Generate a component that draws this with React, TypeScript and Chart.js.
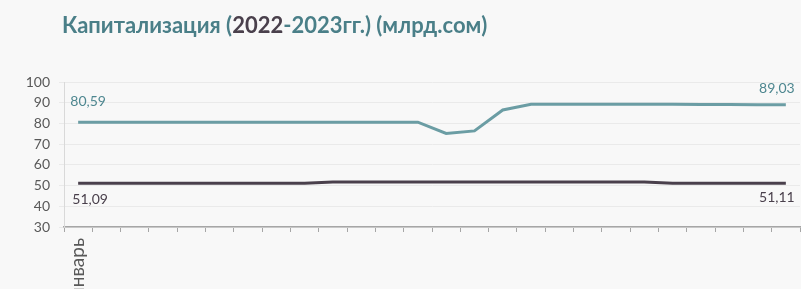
import React, { useEffect, useRef } from 'react';
import { Chart, registerables } from 'chart.js';

Chart.register(...registerables);

// Categories (26 months); only the first is labelled in the original
const categories: string[] = [
  'январь', '', '', '', '', '', '', '', '', '', '', '', '',
  '', '', '', '', '', '', '', '', '', '', '', '', '',
];

// Series 1 (teal)
const seriesTeal: number[] = [
  80.59, 80.59, 80.59, 80.59, 80.59, 80.59, 80.59, 80.59, 80.59, 80.59, 80.59, 80.59, 80.59,
  75.2, 76.4, 86.5, 89.3, 89.3, 89.3, 89.3, 89.3, 89.2, 89.1, 89.1, 89.05, 89.03,
];

// Series 2 (dark)
const seriesDark: number[] = [
  51.09, 51.09, 51.09, 51.09, 51.09, 51.09, 51.09, 51.09, 51.09,
  51.7, 51.7, 51.7, 51.7, 51.7, 51.7, 51.7, 51.7, 51.7, 51.7, 51.7, 51.7,
  51.1, 51.1, 51.15, 51.12, 51.11,
];

const yMin = 30;
const yMax = 100;
const yStep = 10;

const TEAL = '#6B9DA4';
const TEAL_TEXT = '#4E8790';
const DARK = '#4A404C';
const DARK_TEXT = '#4A404C';
const FONT = 'Lato, "Open Sans", sans-serif';

const fmt = (v: number) => v.toFixed(2).replace('.', ',');

const endLabelsPlugin = {
  id: 'endLabels',
  afterDatasetsDraw(chart: any) {
    const ctx = chart.ctx;
    const specs = [
      { ds: 0, color: TEAL_TEXT, first: [10, -21], last: [-9, -16] },
      { ds: 1, color: DARK_TEXT, first: [12, 16], last: [-9, 14] },
    ];
    ctx.save();
    ctx.font = `14px ${FONT}`;
    ctx.textAlign = 'center';
    ctx.textBaseline = 'middle';
    for (const s of specs) {
      const meta = chart.getDatasetMeta(s.ds);
      const data = chart.data.datasets[s.ds].data as number[];
      const n = data.length;
      const p0 = meta.data[0];
      const pn = meta.data[n - 1];
      ctx.fillStyle = s.color;
      ctx.fillText(fmt(data[0]), p0.x + s.first[0], p0.y + s.first[1]);
      ctx.fillText(fmt(data[n - 1]), pn.x + s.last[0], pn.y + s.last[1]);
    }
    ctx.restore();
  },
};

export default function App() {
  const ref = useRef<HTMLCanvasElement | null>(null);

  useEffect(() => {
    if (!ref.current) return;
    const chart = new Chart(ref.current, {
      type: 'line',
      data: {
        labels: categories,
        datasets: [
          {
            data: seriesTeal,
            borderColor: TEAL,
            borderWidth: 3,
            pointRadius: 0,
            tension: 0,
            fill: false,
          },
          {
            data: seriesDark,
            borderColor: DARK,
            borderWidth: 3,
            pointRadius: 0,
            tension: 0,
            fill: false,
          },
        ],
      },
      options: {
        animation: false,
        responsive: false,
        maintainAspectRatio: false,
        layout: { autoPadding: false, padding: { top: 82, right: 1, bottom: 0, left: 0 } },
        plugins: {
          legend: { display: false },
          tooltip: { enabled: false },
          title: { display: false },
        },
        scales: {
          x: {
            offset: true,
            grid: {
              offset: true,
              drawOnChartArea: false,
              drawTicks: true,
              tickLength: 5,
              color: '#A6A6A6',
              lineWidth: 1,
            },
            border: { display: true, color: '#A6A6A6', width: 1.5 },
            ticks: {
              autoSkip: false,
              maxRotation: 90,
              minRotation: 90,
              padding: 6,
              color: '#595959',
              font: { family: FONT, size: 19 },
            },
            afterFit(scale: any) {
              scale.height = 62;
              scale.paddingLeft = 0;
              scale.paddingRight = 0;
            },
          },
          y: {
            min: yMin,
            max: yMax,
            ticks: {
              stepSize: yStep,
              padding: 9,
              color: '#595959',
              font: { family: FONT, size: 14 },
            },
            grid: {
              color: '#EAEAEA',
              lineWidth: 1,
              tickLength: 5,
            },
            border: { display: true, color: '#D9D9D9', width: 1 },
            afterFit(scale: any) {
              scale.width = 64;
              scale.paddingTop = 0;
              scale.paddingBottom = 0;
            },
          },
        },
      },
      plugins: [endLabelsPlugin],
    });
    return () => chart.destroy();
  }, []);

  return (
    <div
      style={{
        position: 'fixed',
        left: 0,
        top: 0,
        width: 801,
        height: 289,
        background: '#F8F8F8',
        overflow: 'hidden',
      }}
    >
      <div
        style={{
          position: 'absolute',
          left: 62,
          top: 11,
          fontFamily: FONT,
          fontWeight: 700,
          fontSize: 22,
          lineHeight: '28px',
          color: '#4A7F88',
          whiteSpace: 'nowrap',
        }}
      >
        Капитализация (<span style={{ color: '#4A404C' }}>2022</span>-2023гг.) (млрд.сом)
      </div>
      <canvas ref={ref} width={801} height={289} style={{ display: 'block' }} />
    </div>
  );
}
